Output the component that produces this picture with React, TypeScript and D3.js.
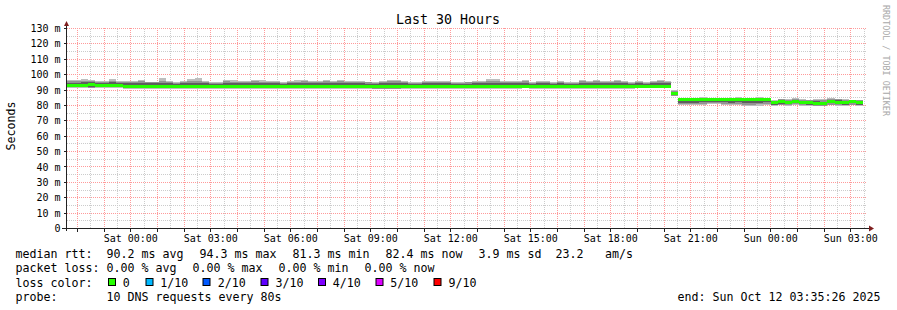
import React from "react";
import * as d3 from "d3";

// ---------- data ----------
const chartTitle = "Last 30 Hours";
const yAxisTitle = "Seconds";
const watermark = "RRDTOOL / TOBI OETIKER";
const endTimeMs = Date.UTC(2025, 9, 12, 3, 35, 26);
const spanHours = 30;
const stepSeconds = 960;

const yTickValues = [0, 10, 20, 30, 40, 50, 60, 70, 80, 90, 100, 110, 120, 130];
const yTickLabels = ["0", "10 m", "20 m", "30 m", "40 m", "50 m", "60 m", "70 m", "80 m", "90 m", "100 m", "110 m", "120 m", "130 m"];
const xTickLabels = ["Sat 00:00", "Sat 03:00", "Sat 06:00", "Sat 09:00", "Sat 12:00", "Sat 15:00", "Sat 18:00", "Sat 21:00", "Sun 00:00", "Sun 03:00"];

// median rtt per 16-minute step (ms)
const median = [
  93.0, 93.0, 93.0, 93.4, 92.9, 93.0, 93.1, 92.9,
  92.2, 92.2, 92.2, 92.2, 92.2, 92.2, 92.2, 92.2, 92.2, 92.2,
  92.2, 92.2, 92.2, 92.2, 92.2, 92.2, 92.2, 92.2, 92.2, 92.2,
  92.2, 92.2, 92.2, 92.2, 92.2, 92.2, 92.2, 92.2, 92.2, 92.2,
  92.2, 92.2, 92.2, 92.2, 92.2, 92.0, 92.0, 92.0, 92.0, 92.2,
  92.2, 92.2, 92.2, 92.2, 92.2, 92.2, 92.2, 92.2, 92.2, 92.2,
  92.2, 92.2, 92.2, 92.2, 92.2, 92.2, 92.4, 92.2, 92.2, 92.2,
  92.2, 92.2, 92.2, 92.2, 92.2, 92.2, 92.2, 92.2, 92.2, 92.2,
  92.2, 92.2, 92.3, 92.3, 92.3, 92.3, 92.3,
  87.5, 83.6, 83.6, 83.6, 83.6, 83.8, 83.8, 83.6, 83.6, 83.6, 83.6, 83.6, 83.6, 83.6,
  81.6, 82.7, 81.8, 82.7, 81.8, 82.2, 81.5, 81.0, 82.7, 82.2, 81.8, 82.7, 81.8,
];

// slowest ping per step
const pingMax = [
  96.6, 96.8, 97.2, 96.6, 95.9, 95.9, 97.0, 95.9,
  95.9, 95.9, 96.6, 95.5, 95.5, 97.7, 95.9, 95.4, 95.9, 97.0,
  97.7, 95.9, 95.4, 95.4, 96.6, 96.6, 95.9, 95.9, 96.6, 96.6,
  96.2, 95.8, 95.3, 96.2, 96.4, 96.8, 95.8, 96.2, 96.8, 95.8,
  96.8, 95.8, 95.8, 95.8, 95.4, 95.3, 95.8, 96.8, 96.8, 95.8,
  95.3, 95.3, 95.8, 95.8, 95.8, 95.8, 95.3, 95.3, 95.4, 95.8,
  95.8, 97.2, 97.2, 95.8, 95.8, 95.8, 96.6, 95.3, 96.2, 95.8,
  95.3, 95.8, 95.3, 95.3, 96.6, 96.2, 96.6, 95.8, 95.8, 96.6,
  95.8, 95.3, 95.8, 95.3, 95.8, 96.4, 96.2,
  90.0, 85.1, 84.5, 84.9, 85.4, 85.1, 85.1, 85.1, 85.1, 85.8, 85.1, 85.1, 85.8, 85.1,
  83.8, 84.5, 84.5, 85.1, 84.5, 83.8, 84.5, 84.0, 85.1, 84.5, 84.5, 83.8, 83.8,
];

// upper edge of the middle smoke band
const pingHigh = [
  95.6, 95.8, 95.9, 95.9, 95.3, 95.5, 96.1, 95.3,
  95.1, 95.1, 95.6, 95.1, 95.1, 95.7, 95.3, 94.9, 95.3, 95.7,
  95.8, 95.3, 94.9, 94.9, 95.6, 95.5, 95.3, 95.3, 95.6, 95.5,
  95.5, 95.3, 94.9, 95.5, 95.5, 95.6, 95.3, 95.5, 95.6, 95.3,
  95.6, 95.3, 95.3, 95.3, 95.0, 94.9, 95.3, 95.6, 95.6, 95.3,
  94.9, 94.9, 95.3, 95.3, 95.3, 95.3, 94.9, 94.9, 95.0, 95.3,
  95.3, 95.8, 95.8, 95.3, 95.3, 95.3, 95.6, 94.9, 95.5, 95.3,
  94.9, 95.3, 94.9, 94.9, 95.6, 95.5, 95.6, 95.3, 95.3, 95.6,
  95.3, 94.9, 95.3, 94.9, 95.3, 95.6, 95.5,
  89.5, 84.6, 84.3, 84.5, 84.8, 84.7, 84.7, 84.5, 84.5, 85.0, 84.6, 84.6, 85.0, 84.6,
  83.2, 84.0, 83.8, 84.4, 83.8, 83.4, 83.8, 83.4, 84.4, 84.0, 83.8, 83.6, 83.4,
];

// upper edge of the dark inner smoke band
const pingInnerHigh = [
  94.9, 94.9, 95.0, 95.5, 94.7, 94.7, 95.5, 94.7,
  94.3, 94.3, 94.5, 94.3, 94.3, 94.7, 94.3, 94.2, 94.3, 94.6,
  94.7, 94.3, 94.2, 94.2, 94.5, 94.5, 94.3, 94.3, 94.5, 94.5,
  94.5, 94.3, 94.2, 94.5, 94.5, 94.7, 94.3, 94.5, 94.7, 94.3,
  94.7, 94.3, 94.3, 94.3, 94.2, 94.1, 94.3, 94.7, 94.7, 94.3,
  94.2, 94.2, 94.3, 94.3, 94.3, 94.3, 94.2, 94.2, 94.2, 94.3,
  94.3, 94.7, 94.7, 94.3, 94.3, 94.3, 94.6, 94.2, 94.5, 94.3,
  94.2, 94.3, 94.2, 94.2, 94.6, 94.5, 94.6, 94.3, 94.3, 94.6,
  94.3, 94.2, 94.3, 94.2, 94.3, 94.5, 94.5,
  88.8, 84.3, 84.1, 84.2, 84.3, 84.4, 84.4, 84.2, 84.2, 84.4, 84.2, 84.2, 84.4, 84.2,
  82.8, 83.8, 83.0, 83.8, 83.0, 83.2, 82.8, 82.4, 83.8, 83.4, 83.0, 83.8, 83.0,
];

// lower edge of the dark inner smoke band
const pingInnerLow = [
  92.0, 92.0, 92.0, 91.9, 91.9, 92.0, 91.8, 91.9,
  91.4, 91.4, 91.4, 91.4, 91.4, 91.4, 91.4, 91.4, 91.4, 91.4,
  91.4, 91.4, 91.4, 91.4, 91.4, 91.4, 91.4, 91.4, 91.4, 91.4,
  91.4, 91.4, 91.4, 91.4, 91.4, 91.4, 91.4, 91.4, 91.4, 91.4,
  91.4, 91.4, 91.4, 91.4, 91.4, 91.2, 91.2, 91.2, 91.2, 91.4,
  91.4, 91.4, 91.4, 91.4, 91.4, 91.4, 91.4, 91.4, 91.4, 91.4,
  91.4, 91.4, 91.4, 91.4, 91.4, 91.4, 91.5, 91.4, 91.4, 91.4,
  91.4, 91.4, 91.4, 91.4, 91.4, 91.4, 91.4, 91.4, 91.4, 91.4,
  91.4, 91.4, 91.5, 91.5, 91.5, 91.5, 91.5,
  86.5, 81.8, 81.8, 81.9, 82.0, 82.2, 82.2, 82.0, 81.9, 82.0, 81.6, 81.6, 81.8, 82.0,
  80.4, 81.2, 80.8, 81.4, 80.8, 80.4, 80.2, 80.0, 81.4, 80.8, 80.6, 81.4, 80.6,
];

// lower edge of the middle smoke band
const pingLow = [
  91.8, 91.8, 91.8, 91.6, 91.8, 91.8, 91.7, 91.8,
  91.2, 91.2, 91.2, 91.2, 91.2, 91.2, 91.2, 91.2, 91.2, 91.2,
  91.2, 91.2, 91.2, 91.2, 91.2, 91.2, 91.2, 91.2, 91.2, 91.2,
  91.2, 91.2, 91.2, 91.2, 91.2, 91.2, 91.2, 91.2, 91.2, 91.2,
  91.2, 91.2, 91.2, 91.2, 91.2, 91.0, 91.0, 91.0, 91.0, 91.2,
  91.2, 91.2, 91.2, 91.2, 91.2, 91.2, 91.2, 91.2, 91.2, 91.2,
  91.2, 91.2, 91.2, 91.2, 91.2, 91.2, 91.3, 91.2, 91.2, 91.2,
  91.2, 91.2, 91.2, 91.2, 91.2, 91.2, 91.2, 91.2, 91.2, 91.2,
  91.2, 91.2, 91.3, 91.3, 91.3, 91.3, 91.3,
  86.3, 81.0, 81.0, 81.2, 81.2, 81.4, 81.4, 81.2, 81.0, 81.2, 80.6, 80.6, 80.8, 81.2,
  80.0, 80.6, 80.2, 80.8, 80.2, 80.0, 79.9, 79.8, 80.6, 80.2, 80.2, 80.6, 80.2,
];

// fastest ping per step
const pingMin = [
  91.6, 91.6, 91.6, 91.5, 91.6, 91.6, 91.5, 91.6,
  91.0, 91.0, 91.0, 91.0, 91.0, 91.0, 91.0, 91.0, 91.0, 91.0,
  91.0, 91.0, 91.0, 91.0, 91.0, 91.0, 91.0, 91.0, 91.0, 91.0,
  91.0, 91.0, 91.0, 91.0, 91.0, 91.0, 91.0, 91.0, 91.0, 91.0,
  91.0, 91.0, 91.0, 91.0, 91.0, 90.8, 90.8, 90.8, 90.8, 91.0,
  91.0, 91.0, 91.0, 91.0, 91.0, 91.0, 91.0, 91.0, 91.0, 91.0,
  91.0, 91.0, 91.0, 91.0, 91.0, 91.0, 91.1, 91.0, 91.0, 91.0,
  91.0, 91.0, 91.0, 91.0, 91.0, 91.0, 91.0, 91.0, 91.0, 91.0,
  91.0, 91.0, 91.1, 91.1, 91.1, 91.1, 91.1,
  86.0, 80.4, 80.4, 80.6, 80.6, 80.8, 80.8, 80.6, 80.4, 80.6, 79.8, 79.8, 79.8, 80.6,
  79.6, 80.0, 79.8, 80.2, 79.8, 79.6, 79.6, 79.5, 80.0, 79.8, 79.8, 80.0, 79.8,
];

const legendRtt = ["median rtt:", "90.2 ms avg", "94.3 ms max", "81.3 ms min", "82.4 ms now", "3.9 ms sd", "23.2", "am/s"];
const legendLoss = ["packet loss:", "0.00 % avg", "0.00 % max", "0.00 % min", "0.00 % now"];
const lossColorTitle = "loss color:";
const lossLabels = ["0", "1/10", "2/10", "3/10", "4/10", "5/10", "9/10"];
const lossColors = ["#26ff00", "#00b8ff", "#0059ff", "#5e00ff", "#7e00ff", "#dd00ff", "#ff0000"];
const probeLine = ["probe:", "10 DNS requests every 80s"];
const endLabel = "end: Sun Oct 12 03:35:26 2025";

// ---------- layout ----------
const W = 897;
const H = 310;
const X0 = 66.5;
const X1 = 866.5;
const YB = 228.5;
const YT = 28.5;
const FONT = "'DejaVu Sans Mono', monospace";
const rttX = [15.5, 106.5, 199.5, 292.5, 385.5, 478.5, 555.5, 605];
const lossX = [15.5, 106.5, 192.5, 278.5, 364.5];
const boxX = [108, 145.5, 202.5, 260.5, 318, 375.5, 433.5];
const boxLabelX = [122.8, 160.2, 217.8, 275.5, 332.8, 390.2, 448.5];
const LEG_FS = 11.63;

export default function App() {
  const end = new Date(endTimeMs);
  const start = new Date(endTimeMs - spanHours * 3600 * 1000);
  const x = d3.scaleUtc().domain([start, end]).range([X0, X1]);
  const y = d3.scaleLinear().domain([0, 130]).range([YB, YT]);
  const snap = (v: number) => Math.round(v - 0.5) + 0.5;

  const n = median.length;
  const pts = d3.range(n + 1).map((i) => ({
    t: new Date(start.getTime() + i * stepSeconds * 1000),
    i: Math.min(i, n - 1),
  }));
  const band = (lo: (i: number) => number, hi: (i: number) => number) =>
    d3
      .area<{ t: Date; i: number }>()
      .x((d) => x(d.t))
      .y0((d) => lo(d.i))
      .y1((d) => hi(d.i))
      .curve(d3.curveStepAfter)(pts) || "";

  const smoke = [
    { color: "#bebebe", d: band((i) => y(pingMin[i]), (i) => y(pingMax[i])) },
    { color: "#939393", d: band((i) => y(pingLow[i]), (i) => y(pingHigh[i])) },
    { color: "#5e5e5e", d: band((i) => y(pingInnerLow[i]), (i) => y(pingInnerHigh[i])) },
  ];
  const medianBand = band((i) => y(median[i]) + 1.5, (i) => y(median[i]) - 1.5);

  const majorV = d3.utcHour.every(1)!.range(start, end);
  const minorV = d3.utcMinute.every(30)!.range(start, end).filter((t) => t.getUTCMinutes() === 30);
  const labelTimes = d3.utcHour.every(3)!.range(start, end);
  const minorH = d3.range(5, 130, 10);

  // dotted lines: dashes start on whole pixels so each dot fills one pixel
  const GX0 = 67;
  const GX1 = 867;
  const GY0 = 29;
  const GY1 = 228;

  return (
    <div style={{ position: "absolute", left: 0, top: 0 }}>
      <svg width={W} height={H} viewBox={`0 0 ${W} ${H}`} style={{ display: "block", background: "#fff" }}>
        <rect x={0} y={0} width={W} height={H} fill="#ffffff" />
        {/* minor grid */}
        <g stroke="#cccccc" strokeWidth={1} strokeDasharray="1 1">
          {minorH.map((v) => (
            <line key={"mh" + v} x1={GX0} x2={GX1} y1={snap(y(v))} y2={snap(y(v))} />
          ))}
          {minorV.map((t) => (
            <line key={"mv" + t.getTime()} x1={snap(x(t))} x2={snap(x(t))} y1={GY0} y2={GY1} />
          ))}
        </g>
        {/* major grid */}
        <g stroke="#ff9a9a" strokeWidth={1} strokeDasharray="1 1">
          {yTickValues.slice(1).map((v) => (
            <line key={"Mh" + v} x1={GX0} x2={GX1} y1={snap(y(v))} y2={snap(y(v))} />
          ))}
          {majorV.map((t) => (
            <line key={"Mv" + t.getTime()} x1={snap(x(t))} x2={snap(x(t))} y1={GY0 - 1} y2={GY1} />
          ))}
        </g>
        {/* smoke */}
        <g shapeRendering="crispEdges">
          {smoke.map((s, k) => (
            <path key={k} d={s.d} fill={s.color} />
          ))}
          <path d={medianBand} fill={lossColors[0]} />
        </g>
        {/* axes */}
        <g stroke="#222" strokeWidth={1} shapeRendering="crispEdges">
          <line x1={62} x2={870} y1={YB} y2={YB} />
          <line x1={X0} x2={X0} y1={24} y2={231} />
          {yTickValues.slice(1).map((v) => (
            <line key={"yt" + v} x1={X0 - 3} x2={X0} y1={snap(y(v))} y2={snap(y(v))} />
          ))}
          {majorV.map((t) => (
            <line key={"xt" + t.getTime()} x1={snap(x(t))} x2={snap(x(t))} y1={YB} y2={YB + 3} />
          ))}
        </g>
        <polygon points={`${X0 - 2.5},26 ${X0 + 2.5},26 ${X0},21`} fill="#7f1f1f" />
        <polygon points={`869,225.5 869,231.5 874,228.5`} fill="#7f1f1f" />
        {/* y labels */}
        <g fontFamily={FONT} fontSize={10} fill="#000" textAnchor="end">
          {yTickValues.map((v, k) => (
            <text key={"yl" + v} x={60.5} y={y(v) + 3.6}>
              {yTickLabels[k]}
            </text>
          ))}
        </g>
        {/* x labels */}
        <g fontFamily={FONT} fontSize={10} fill="#000" textAnchor="middle">
          {labelTimes.map((t, k) => (
            <text key={"xl" + k} x={x(t)} y={241.5}>
              {xTickLabels[k]}
            </text>
          ))}
        </g>
        {/* titles */}
        <text x={448} y={23.5} fontFamily={FONT} fontSize={13.3} textAnchor="middle" fill="#000">
          {chartTitle}
        </text>
        <text
          transform="translate(15,126) rotate(-90)"
          fontFamily={FONT}
          fontSize={LEG_FS}
          textAnchor="middle"
          fill="#000"
        >
          {yAxisTitle}
        </text>
        <text transform="translate(883,5) rotate(90)" fontFamily={FONT} fontSize={8.4} fill="#a8a8a8">
          {watermark}
        </text>
        {/* legend */}
        <g fontFamily={FONT} fontSize={LEG_FS} fill="#000" style={{ whiteSpace: "pre" }}>
          {legendRtt.map((s, k) => (
            <text key={"r" + k} x={rttX[k]} y={258}>
              {s}
            </text>
          ))}
          {legendLoss.map((s, k) => (
            <text key={"l" + k} x={lossX[k]} y={272.3}>
              {s}
            </text>
          ))}
          <text x={15.5} y={286.5}>
            {lossColorTitle}
          </text>
          {lossLabels.map((s, k) => (
            <g key={"b" + k}>
              <rect x={boxX[k] + 0.5} y={278.5} width={7} height={7} fill={lossColors[k]} stroke="#000" strokeWidth={1} />
              <text x={boxLabelX[k]} y={286.5}>
                {s}
              </text>
            </g>
          ))}
          <text x={15.5} y={300.5}>
            {probeLine[0]}
          </text>
          <text x={106.5} y={300.5}>
            {probeLine[1]}
          </text>
          <text x={677.5} y={300.5}>
            {endLabel}
          </text>
        </g>
      </svg>
    </div>
  );
}
